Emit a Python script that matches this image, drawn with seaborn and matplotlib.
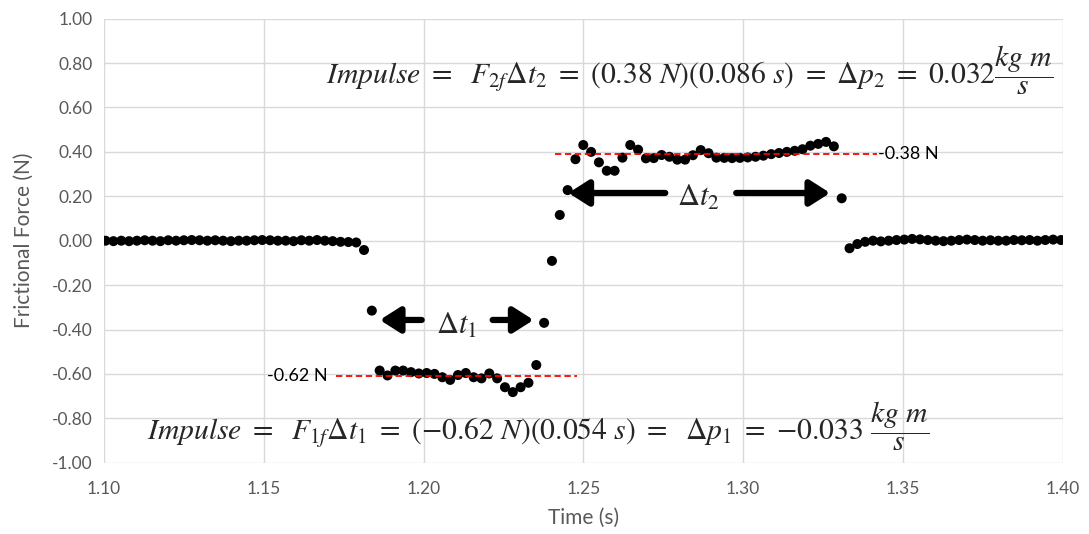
import numpy as np
import pandas as pd
import matplotlib
matplotlib.use("Agg")
import matplotlib.pyplot as plt
import seaborn as sns

# ---- data ----
T0 = 1.1005          # first sample time (s)
DT = 0.00245         # sample spacing (s)

force_rest_before = [0.000, -0.002, 0.000, -0.002, 0.000, 0.002, 0.000, -0.002, 0.002, 0.000,
                     0.002, 0.003, 0.002, 0.000, 0.002, 0.000, -0.002, 0.000, 0.000, 0.002,
                     0.003, 0.002, 0.000, 0.000, -0.002, 0.002, 0.000, 0.003, 0.000, -0.002,
                     -0.005, -0.006, -0.008]
force_drop = [-0.042, -0.315]
force_stick1 = [-0.585, -0.607, -0.585, -0.585, -0.592, -0.598, -0.596, -0.600, -0.615, -0.627,
                -0.605, -0.596, -0.615, -0.620, -0.598, -0.620, -0.660, -0.682, -0.660, -0.640,
                -0.560]
force_reverse = [-0.370, -0.091, 0.116, 0.228, 0.367, 0.431, 0.400, 0.353, 0.315, 0.315,
                 0.374, 0.431, 0.410]
force_stick2 = [0.371, 0.372, 0.386, 0.378, 0.365, 0.365, 0.385, 0.408, 0.394, 0.374,
                0.373, 0.372, 0.373, 0.375, 0.378, 0.383, 0.390, 0.395, 0.400, 0.405,
                0.412, 0.428, 0.436, 0.445, 0.425]
force_release = [0.191]
force_rest_after = [-0.034, -0.015, -0.005, 0.000, -0.003, 0.000, 0.003, 0.005, 0.008, 0.006,
                    0.003, 0.000, -0.002, 0.000, 0.003, 0.005, 0.003, 0.000, 0.002, 0.000,
                    0.000, 0.003, 0.002, 0.003, 0.000, 0.003, 0.005, 0.003]

avg_force_1 = -0.61    # red dashed level, first interval
avg_force_2 = 0.39     # red dashed level, second interval
avg_span_1 = (1.1725, 1.248)
avg_span_2 = (1.241, 1.342)
avg_label_1 = "-0.62 N"
avg_label_2 = "-0.38 N"

x_ticks = [1.10, 1.15, 1.20, 1.25, 1.30, 1.35, 1.40]
y_ticks = [-1.0, -0.8, -0.6, -0.4, -0.2, 0.0, 0.2, 0.4, 0.6, 0.8, 1.0]

eq_top = (r"$Impulse\ =\ \ F_{2f}\Delta t_2\ =\ (0.38\ N)(0.086\ s)\ =\ \Delta p_2\ =\ "
          r"0.032\dfrac{kg\ m}{s}$")
eq_bottom = (r"$Impulse\ =\ \ F_{1f}\Delta t_1\ =\ (-0.62\ N)(0.054\ s)\ =\ \ \Delta p_1\ =\ "
             r"{-0.033}\ \dfrac{kg\ m}{s}$")

force = (force_rest_before + force_drop + force_stick1 + force_reverse +
         force_stick2 + force_release + force_rest_after)
time = T0 + DT * np.arange(len(force))
df = pd.DataFrame({"Time (s)": time, "Frictional Force (N)": force})

# ---- styling ----
sns.set_theme(style="white")
plt.rcParams["font.family"] = ["Lato", "DejaVu Sans"]
plt.rcParams["mathtext.fontset"] = "stix"

fig = plt.figure(figsize=(10.89, 5.34), dpi=100)
ax = fig.add_axes([0.0955, 0.1335, 0.8805, 0.8315])

sns.scatterplot(data=df, x="Time (s)", y="Frictional Force (N)", ax=ax,
                color="black", s=52, edgecolor="none", zorder=3)

ax.set_xlim(1.10, 1.40)
ax.set_ylim(-1.0, 1.0)
ax.set_xticks(x_ticks)
ax.set_yticks(y_ticks)
ax.set_xticklabels([f"{v:.2f}" for v in x_ticks])
ax.set_yticklabels([f"{v:.2f}" for v in y_ticks])
ax.grid(True, color="#d9d9d9", lw=1)
ax.set_axisbelow(True)
for s in ax.spines.values():
    s.set_visible(False)
ax.tick_params(axis="both", length=0, labelsize=12.5, labelcolor="#595959")
ax.tick_params(axis="x", pad=13)
ax.tick_params(axis="y", pad=8)
ax.set_xlabel("Time (s)", fontsize=15, color="#595959", labelpad=8)
ax.set_ylabel("Frictional Force (N)", fontsize=15, color="#595959", labelpad=13)

# red dashed average lines
ax.plot(avg_span_1, [avg_force_1, avg_force_1], color="red", ls=(0, (3.5, 2)), lw=1.3, zorder=4)
ax.plot(avg_span_2, [avg_force_2, avg_force_2], color="red", ls=(0, (3.5, 2)), lw=1.3, zorder=4)
ax.text(avg_span_1[0] - 0.0025, avg_force_1, avg_label_1, ha="right", va="center",
        fontsize=13, color="black")
ax.text(avg_span_2[1] + 0.0003, avg_force_2, avg_label_2, ha="left", va="center",
        fontsize=13, color="black")

# interval arrows
arrow_kw = dict(arrowstyle="-|>,head_length=0.55,head_width=0.35", lw=4.5,
                color="black", mutation_scale=22, shrinkA=0, shrinkB=0)
ax.annotate("", xy=(1.1863, -0.357), xytext=(1.1994, -0.357), arrowprops=arrow_kw)
ax.annotate("", xy=(1.2344, -0.357), xytext=(1.2216, -0.357), arrowprops=arrow_kw)
ax.annotate("", xy=(1.2453, 0.215), xytext=(1.2756, 0.215), arrowprops=arrow_kw)
ax.annotate("", xy=(1.3272, 0.215), xytext=(1.2978, 0.215), arrowprops=arrow_kw)
ax.text(1.2103, -0.38, r"$\Delta t_1$", ha="center", va="center", fontsize=22)
ax.text(1.2859, 0.197, r"$\Delta t_2$", ha="center", va="center", fontsize=22)

# impulse equations
ax.text(1.1694, 0.705, eq_top, ha="left", va="baseline", fontsize=21.3)
ax.text(1.1134, -0.902, eq_bottom, ha="left", va="baseline", fontsize=21.3)

fig.savefig("out.png", dpi=100)
